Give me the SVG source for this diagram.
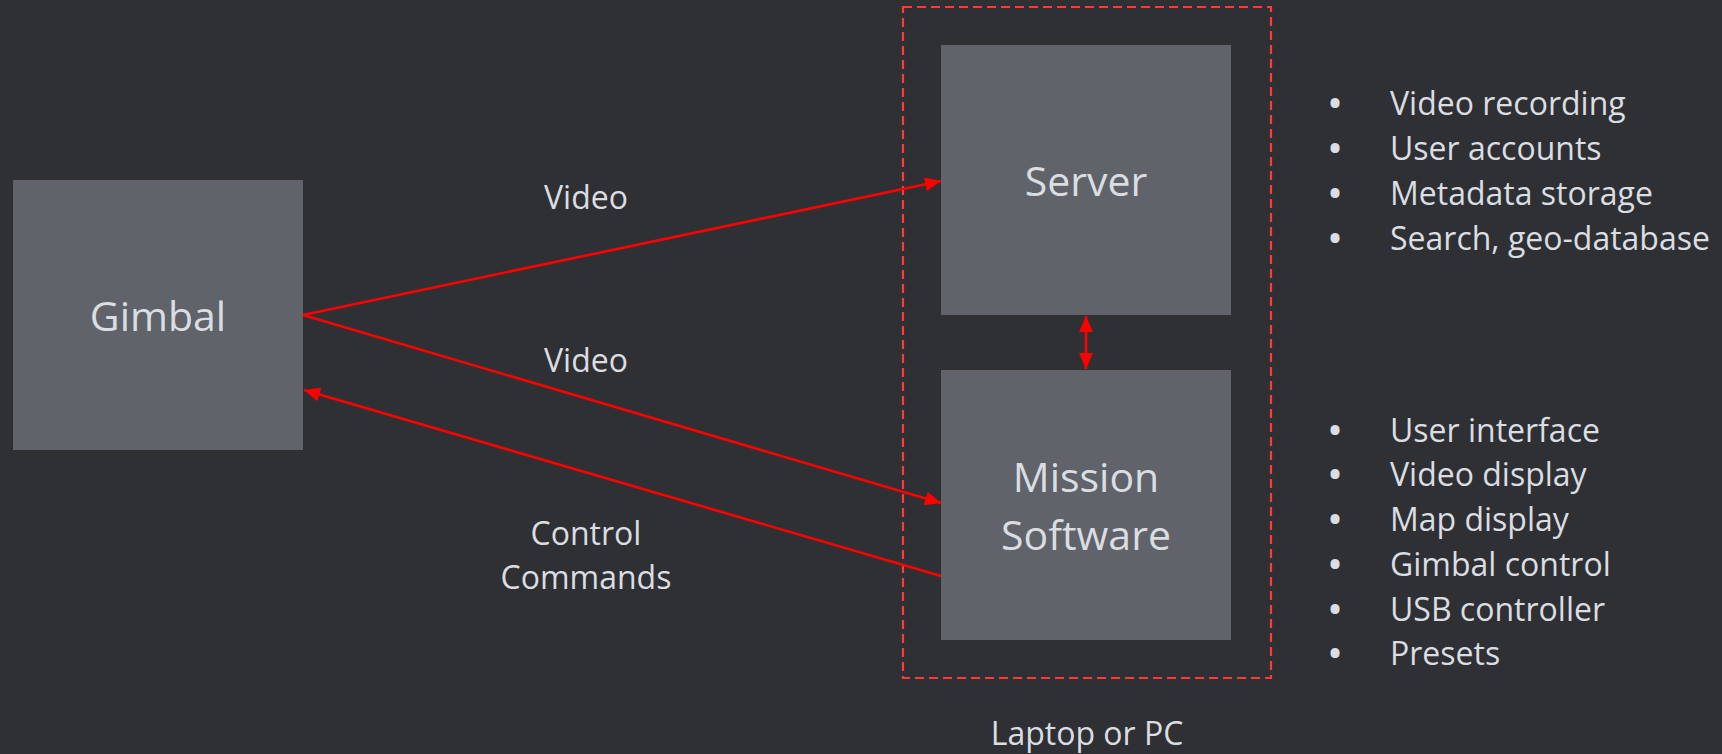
<svg xmlns="http://www.w3.org/2000/svg" width="1722" height="754" viewBox="0 0 1722 754">
  <style>
    .box { fill: #606369; }
    .label { font-family: "Open Sans", "Liberation Sans", sans-serif; fill: #dadde1; }
    .node-label { font-size: 41px; text-anchor: middle; }
    .edge-label { font-size: 32px; text-anchor: middle; }
    .list { font-size: 32px; }
    .bullet { font-weight: 700; }
    .link { stroke: #ff0000; stroke-width: 2.6; fill: none; }
    .frame { stroke: #ff3a3a; stroke-width: 2.2; fill: none; stroke-dasharray: 9 5; }
  </style>
  <defs>
    <marker id="arrow" viewBox="0 0 16 14" markerWidth="16" markerHeight="14" refX="16" refY="7" orient="auto-start-reverse" markerUnits="userSpaceOnUse">
      <path d="M0,0 L16,7 L0,14 z" fill="#ff0000"/>
    </marker>
  </defs>

  <rect width="1722" height="754" fill="#2f3034"/>

  <!-- host machine boundary -->
  <g id="laptop">
    <rect class="frame" x="903" y="7" width="368" height="671"/>
    <text class="label edge-label" x="1087" y="745">Laptop or PC</text>
  </g>

  <g id="gimbal">
    <rect class="box" x="13" y="180" width="290" height="270"/>
    <text class="label node-label" x="158" y="331">Gimbal</text>
  </g>

  <g id="server">
    <rect class="box" x="941" y="45" width="290" height="270"/>
    <text class="label node-label" x="1086" y="196">Server</text>
  </g>

  <g id="mission-software">
    <rect class="box" x="941" y="370" width="290" height="270"/>
    <text class="label node-label" x="1086" y="492">Mission</text>
    <text class="label node-label" x="1086" y="550">Software</text>
  </g>

  <g id="connectors">
    <line class="link" x1="303" y1="315" x2="941" y2="181" marker-end="url(#arrow)"/>
    <line class="link" x1="303" y1="315" x2="941" y2="503" marker-end="url(#arrow)"/>
    <line class="link" x1="941" y1="576" x2="304" y2="390" marker-end="url(#arrow)"/>
    <line class="link" x1="1086" y1="316" x2="1086" y2="369" marker-start="url(#arrow)" marker-end="url(#arrow)"/>
    <text class="label edge-label" x="586" y="209">Video</text>
    <text class="label edge-label" x="586" y="372">Video</text>
    <text class="label edge-label" x="586" y="545">Control</text>
    <text class="label edge-label" x="586" y="589">Commands</text>
  </g>

  <!-- bullet lists: bullet tspan at x=1329, item text at x=1390 -->
  <g id="server-features" class="label list">
    <text y="115"><tspan class="bullet" x="1329">•</tspan><tspan x="1390">Video recording</tspan></text>
    <text y="160"><tspan class="bullet" x="1329">•</tspan><tspan x="1390">User accounts</tspan></text>
    <text y="205"><tspan class="bullet" x="1329">•</tspan><tspan x="1390">Metadata storage</tspan></text>
    <text y="250"><tspan class="bullet" x="1329">•</tspan><tspan x="1390">Search, geo-database</tspan></text>
  </g>

  <g id="mission-features" class="label list">
    <text y="442"><tspan class="bullet" x="1329">•</tspan><tspan x="1390">User interface</tspan></text>
    <text y="486"><tspan class="bullet" x="1329">•</tspan><tspan x="1390">Video display</tspan></text>
    <text y="531"><tspan class="bullet" x="1329">•</tspan><tspan x="1390">Map display</tspan></text>
    <text y="576"><tspan class="bullet" x="1329">•</tspan><tspan x="1390">Gimbal control</tspan></text>
    <text y="621"><tspan class="bullet" x="1329">•</tspan><tspan x="1390">USB controller</tspan></text>
    <text y="665"><tspan class="bullet" x="1329">•</tspan><tspan x="1390">Presets</tspan></text>
  </g>
</svg>
